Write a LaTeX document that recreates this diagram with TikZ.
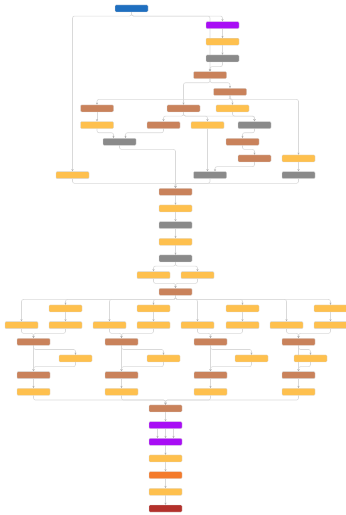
\documentclass[tikz,border=0pt]{standalone}
\usetikzlibrary{arrows.meta,calc,backgrounds}
\definecolor{cblue}{HTML}{1F6FC0}
\definecolor{cpurple}{HTML}{A80DF5}
\definecolor{cyellow}{HTML}{FEC04E}
\definecolor{cgray}{HTML}{8A8A8A}
\definecolor{cbrown}{HTML}{C9825B}
\definecolor{corange}{HTML}{F47B2C}
\definecolor{cred}{HTML}{B3302B}
\definecolor{cedge}{HTML}{D9D9D9}
\definecolor{ctip}{HTML}{B0B0B0}
\tikzset{
  x=1pt,y=1pt,
  box/.style={rectangle,minimum width=33pt,minimum height=7pt,inner sep=0pt,rounded corners=1pt,draw=white!85!black,line width=0.3pt},
  bl/.style={box,fill=cblue},
  pu/.style={box,fill=cpurple},
  ye/.style={box,fill=cyellow},
  gr/.style={box,fill=cgray},
  br/.style={box,fill=cbrown},
  orb/.style={box,fill=corange},
  rd/.style={box,fill=cred},
  edge/.style={draw=cedge,line width=0.6pt,rounded corners=2pt,-{Stealth[length=2.2pt,width=2pt,color=ctip]}}
}
\newcommand{\es}[2]{\draw[edge] (#1) -- ++(0,-4) -| (#2);}
\newcommand{\et}[2]{\draw[edge] (#1) |- ($(#2)+(0,4.8)$) -- (#2);}
\newcommand{\ev}[2]{\draw[edge] (#1) -- (#2);}
\begin{document}
\begin{tikzpicture}
\useasboundingbox (0,0) rectangle (346,-515);
% rows y_k = 8.4 + 16.67 k
\node[bl] (b0) at (131.5,-8.4) {};
\node[pu] (p1) at (222.5,-25.07) {};
\node[ye] (y2) at (222.5,-41.74) {};
\node[gr] (g3) at (222.5,-58.41) {};
\node[br] (r4) at (210,-75.08) {};
\node[br] (r5) at (230,-91.75) {};
\node[br] (r6a) at (97,-108.42) {};
\node[br] (r6b) at (183.5,-108.42) {};
\node[ye] (y6) at (232.5,-108.42) {};
\node[ye] (y7a) at (97,-125.09) {};
\node[br] (r7) at (163.5,-125.09) {};
\node[ye] (y7b) at (207.5,-125.09) {};
\node[gr] (g7) at (254.5,-125.09) {};
\node[gr] (g8) at (119.5,-141.76) {};
\node[br] (r8) at (242.5,-141.76) {};
\node[br] (r9) at (254.5,-158.43) {};
\node[ye] (y9) at (298.5,-158.43) {};
\node[ye] (y10) at (72.5,-175.1) {};
\node[gr] (g10a) at (210,-175.1) {};
\node[gr] (g10b) at (298.5,-175.1) {};
\node[br] (r11) at (175.5,-191.77) {};
\node[ye] (y12) at (175.5,-208.44) {};
\node[gr] (g13) at (175.5,-225.11) {};
\node[ye] (y14) at (175.5,-241.78) {};
\node[gr] (g15) at (175.5,-258.45) {};
\node[ye] (y16a) at (153.5,-275.12) {};
\node[ye] (y16b) at (197.5,-275.12) {};
\node[br] (r17) at (175.5,-291.79) {};
% groups
\foreach \i/\xa/\xb/\xc/\xd in {1/21.5/65.5/33.5/75.5, 2/109.5/153.5/121.5/163.5, 3/197.5/242.5/210.5/251.5, 4/286.5/330.5/298.5/310.5}{
  \node[ye] (t\i) at (\xb,-308.46) {};
  \node[ye] (ua\i) at (\xa,-325.13) {};
  \node[ye] (ub\i) at (\xb,-325.13) {};
  \node[br] (c\i) at (\xc,-341.8) {};
  \node[ye] (d\i) at (\xd,-358.47) {};
  \node[br] (e\i) at (\xc,-375.14) {};
  \node[ye] (f\i) at (\xc,-391.81) {};
}
\node[br] (r24) at (165.5,-408.48) {};
\node[pu] (p25) at (165.5,-425.15) {};
\node[pu] (p26) at (165.5,-441.82) {};
\node[ye] (y27) at (165.5,-458.49) {};
\node[orb] (o28) at (165.5,-475.16) {};
\node[ye] (y29) at (165.5,-491.83) {};
\node[rd] (z30) at (165.5,-508.5) {};

\begin{pgfonlayer}{background}
\es{b0.south}{p1.north}
\es{b0.south}{y10.north}
\es{b0.south}{r4.north}
\ev{p1.south}{y2.north}
\ev{y2.south}{g3.north}
\et{g3.south}{r4.north}
\es{r4.south}{r5.north}
\es{r4.south}{r6b.north}
\es{r5.south}{r6a.north}
\es{r5.south}{y6.north}
\es{r5.south}{y9.north}
\ev{r6a.south}{y7a.north}
\es{r6b.south}{r7.north}
\es{r6b.south}{y7b.north}
\es{r6b.south}{g7.north}
\es{y6.south}{g7.north}
\es{y7a.south}{[xshift=-6pt]g8.north}
\es{r7.south}{[xshift=6pt]g8.north}
\ev{y7b.south}{y7b.south |- g10a.north}
\es{g7.south}{r8.north}
\es{r8.south}{r9.north}
\et{r9.south}{[xshift=5pt]g10a.north}
\ev{y9.south}{g10b.north}
\es{g8.south}{r11.north}
\et{y10.south}{r11.north}
\et{g10a.south}{r11.north}
\et{g10b.south}{r11.north}
\ev{r11.south}{y12.north}
\ev{y12.south}{g13.north}
\ev{g13.south}{y14.north}
\ev{y14.south}{g15.north}
\es{g15.south}{y16a.north}
\es{g15.south}{y16b.north}
\et{y16a.south}{r17.north}
\et{y16b.south}{r17.north}
\foreach \i in {1,2,3,4}{
  \es{r17.south}{t\i.north}
  \es{r17.south}{ua\i.north}
  \ev{t\i.south}{ub\i.north}
  \et{ua\i.south}{c\i.north}
  \et{ub\i.south}{c\i.north}
  \es{c\i.south}{d\i.north}
  \ev{c\i.south}{e\i.north}
  \et{d\i.south}{e\i.north}
  \ev{e\i.south}{f\i.north}
  \et{f\i.south}{r24.north}
}
\ev{r24.south}{p25.north}
\ev{[xshift=-8pt]p25.south}{[xshift=-8pt]p26.north}
\ev{p25.south}{p26.north}
\ev{[xshift=8pt]p25.south}{[xshift=8pt]p26.north}
\ev{p26.south}{y27.north}
\ev{y27.south}{o28.north}
\ev{o28.south}{y29.north}
\ev{y29.south}{z30.north}
\end{pgfonlayer}
\end{tikzpicture}
\end{document}
